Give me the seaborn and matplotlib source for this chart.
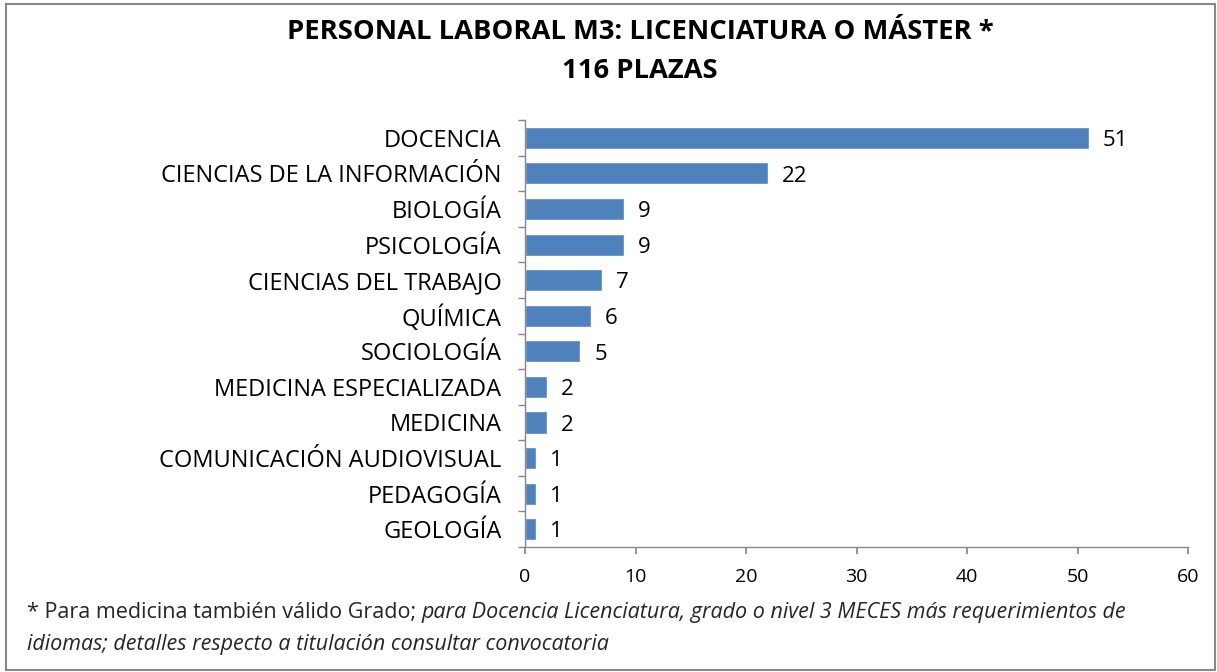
import matplotlib
matplotlib.use("Agg")
import matplotlib.pyplot as plt
import seaborn as sns
import pandas as pd
import numpy as np
from matplotlib.patches import Rectangle
from matplotlib.transforms import offset_copy

categories = ["DOCENCIA", "CIENCIAS DE LA INFORMACIÓN", "BIOLOGÍA", "PSICOLOGÍA",
              "CIENCIAS DEL TRABAJO", "QUÍMICA", "SOCIOLOGÍA", "MEDICINA ESPECIALIZADA",
              "MEDICINA", "COMUNICACIÓN AUDIOVISUAL", "PEDAGOGÍA", "GEOLOGÍA"]
values = [51, 22, 9, 9, 7, 6, 5, 2, 2, 1, 1, 1]
xticks = [0, 10, 20, 30, 40, 50, 60]

df = pd.DataFrame({"cat": categories, "val": values})

sns.set_theme(style="white")
plt.rcParams['font.family'] = ['Open Sans', 'DejaVu Sans']

fig = plt.figure(figsize=(12.17, 6.72), dpi=100)
ax = fig.add_axes([0.4314, 0.186, 0.5448, 0.6354])

sns.barplot(data=df, x="val", y="cat", color="#4F81BD", saturation=1, width=0.62, ax=ax, orient="h")

lbl_tr = offset_copy(ax.transData, fig=fig, x=10, y=-2, units="points")
for i, v in enumerate(values):
    ax.text(v, i, str(v), va="center", ha="left", fontsize=16, color="black", transform=lbl_tr)

ax.set_xlim(0, 60)
ax.set_ylim(11.5, -0.5)
ax.set_xticks(xticks)
ax.set_xticklabels([str(t) for t in xticks])
ax.set_yticks(np.arange(-0.5, 12, 1), minor=True)
ax.tick_params(axis="y", which="major", labelsize=17, length=0, pad=17)
ax.tick_params(axis="y", which="minor", length=5, color="#888888", left=True, direction="out")
ax.tick_params(axis="x", which="major", labelsize=14, length=5, direction="out",
               color="#888888", bottom=True, pad=10)
ax.set_xlabel("")
ax.set_ylabel("")
for s in ["top", "right"]:
    ax.spines[s].set_visible(False)
ax.spines["left"].set_color("#888888")
ax.spines["bottom"].set_color("#888888")
ax.spines["left"].set_linewidth(1)
ax.spines["bottom"].set_linewidth(1)

for lbl in ax.get_yticklabels():
    lbl.set_color("black")
for lbl in ax.get_xticklabels():
    lbl.set_color("black")

fig.text(0.526, 0.953, "PERSONAL LABORAL M3: LICENCIATURA O MÁSTER *", ha="center", va="center",
         fontsize=19.7, fontweight="bold", color="black")
fig.text(0.526, 0.895, "116 PLAZAS", ha="center", va="center",
         fontsize=19.7, fontweight="bold", color="black")

t1 = fig.text(0.022, 0.088, "* Para medicina también válido Grado; ", ha="left", va="center", fontsize=15.5)

fig.canvas.draw()
r = fig.canvas.get_renderer()
bb = t1.get_window_extent(renderer=r)
x1 = bb.x1 / fig.bbox.width
fig.text(x1, 0.088, "para Docencia Licenciatura, grado o nivel 3 MECES más requerimientos de",
         ha="left", va="center", fontsize=15.5, style="italic")
fig.text(0.022, 0.041, "idiomas; detalles respecto a titulación consultar convocatoria",
         ha="left", va="center", fontsize=15.5, style="italic")

fig.patches.append(Rectangle((0.005, 0.003), 0.993, 0.991, transform=fig.transFigure,
                             fill=False, edgecolor="#888888", linewidth=1.5))

fig.savefig("out.png", dpi=100, facecolor="white")
